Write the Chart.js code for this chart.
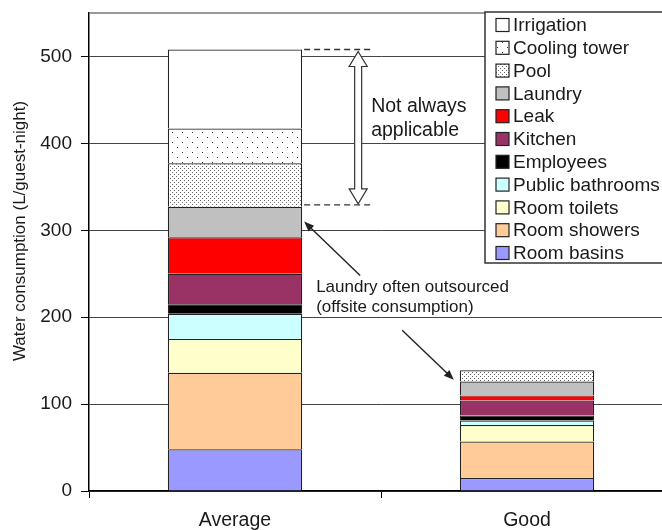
<!DOCTYPE html>
<html>
<head>
<meta charset="utf-8">
<script src="https://cdn.jsdelivr.net/npm/chart.js@4.4.1/dist/chart.umd.min.js"></script>
<style>
  html, body { margin: 0; padding: 0; background: #fff; overflow: hidden; }
  #wrap { width: 680px; height: 530px; }
</style>
</head>
<body>
<div id="wrap"><canvas id="waterChart"></canvas></div>
<script>
// categories + stacked series (L/guest-night)
const categories = ['Average', 'Good'];
const roomBasins = [48, 15];
const roomShowers = [88, 42];
const roomToilets = [39, 19];
const publicBathrooms = [29, 5];
const employees = [11, 6];
const kitchen = [35, 17];
const leak = [42, 6];
const laundry = [35, 16];
const pool = [50, 13];
const coolingTower = [40, 0];
const irrigation = [91, 0];
const yTicks = [0, 100, 200, 300, 400, 500];

const FONT = 'Liberation Sans, Arial, sans-serif';

// dotted fills for pool / cooling tower
function dots(size, pts, col) {
  const c = document.createElement('canvas');
  c.width = size; c.height = size;
  const g = c.getContext('2d');
  g.fillStyle = '#fff';
  g.fillRect(0, 0, size, size);
  g.fillStyle = col;
  pts.forEach(p => g.fillRect(p[0], p[1], 1, 1));
  return g.createPattern(c, 'repeat');
}
const ctx = document.getElementById('waterChart').getContext('2d');
const coolingFill = dots(10, [[2, 2], [7, 7]], '#333');
const poolFill = dots(4, [[0, 0], [2, 2]], '#666');

const series = [
  { label: 'Room basins', data: roomBasins, backgroundColor: '#9999ff' },
  { label: 'Room showers', data: roomShowers, backgroundColor: '#ffcc99' },
  { label: 'Room toilets', data: roomToilets, backgroundColor: '#ffffcc' },
  { label: 'Public bathrooms', data: publicBathrooms, backgroundColor: '#ccffff' },
  { label: 'Employees', data: employees, backgroundColor: '#000000' },
  { label: 'Kitchen', data: kitchen, backgroundColor: '#993366' },
  { label: 'Leak', data: leak, backgroundColor: '#ff0000' },
  { label: 'Laundry', data: laundry, backgroundColor: '#c0c0c0' },
  { label: 'Pool', data: pool, backgroundColor: poolFill },
  { label: 'Cooling tower', data: coolingTower, backgroundColor: coolingFill },
  { label: 'Irrigation', data: irrigation, backgroundColor: '#ffffff' }
];

function arrow(g, x1, y1, x2, y2) {
  const a = Math.atan2(y2 - y1, x2 - x1);
  g.beginPath();
  g.moveTo(x1, y1);
  g.lineTo(x2 - 6 * Math.cos(a), y2 - 6 * Math.sin(a));
  g.stroke();
  g.beginPath();
  g.moveTo(x2, y2);
  g.lineTo(x2 - 10 * Math.cos(a) + 4 * Math.sin(a), y2 - 10 * Math.sin(a) - 4 * Math.cos(a));
  g.lineTo(x2 - 10 * Math.cos(a) - 4 * Math.sin(a), y2 - 10 * Math.sin(a) + 4 * Math.cos(a));
  g.closePath();
  g.fill();
}

const extras = {
  id: 'extras',
  afterDraw(chart) {
    const g = chart.ctx;
    const ca = chart.chartArea;
    const y = chart.scales.y;
    g.save();

    // top border of the plot area
    g.strokeStyle = '#777';
    g.lineWidth = 1.5;
    g.beginPath();
    g.moveTo(ca.left, ca.top);
    g.lineTo(ca.right, ca.top);
    g.stroke();

    // y title
    g.save();
    g.translate(20, 231);
    g.rotate(-Math.PI / 2);
    g.fillStyle = '#1a1a1a';
    g.font = '17px ' + FONT;
    g.textAlign = 'center';
    g.textBaseline = 'middle';
    g.fillText('Water consumption (L/guest-night)', 0, 0);
    g.restore();

    // "not always applicable" bracket
    const avg = chart.getDatasetMeta(0).data[0];
    const good = chart.getDatasetMeta(0).data[1];
    const avgRight = avg.x + avg.width / 2;
    const goodLeft = good.x - good.width / 2;
    let lowSum = 0, topSum = 0;
    series.forEach((s, i) => { topSum += s.data[0]; if (i <= 7) lowSum += s.data[0]; });
    const yTop = y.getPixelForValue(topSum), yLow = y.getPixelForValue(lowSum) - 2;
    g.strokeStyle = '#333';
    g.lineWidth = 1.3;
    g.setLineDash([6, 4]);
    g.beginPath();
    g.moveTo(avgRight + 2, yTop); g.lineTo(avgRight + 68, yTop);
    g.moveTo(avgRight + 2, yLow); g.lineTo(avgRight + 68, yLow);
    g.stroke();
    g.setLineDash([]);

    const cx = avgRight + 56, hw = 9, sw = 3.5, hl = 15;
    const t = yTop + 2, b = yLow - 1;
    g.beginPath();
    g.moveTo(cx, t);
    g.lineTo(cx + hw, t + hl); g.lineTo(cx + sw, t + hl);
    g.lineTo(cx + sw, b - hl); g.lineTo(cx + hw, b - hl);
    g.lineTo(cx, b);
    g.lineTo(cx - hw, b - hl); g.lineTo(cx - sw, b - hl);
    g.lineTo(cx - sw, t + hl); g.lineTo(cx - hw, t + hl);
    g.closePath();
    g.fillStyle = '#fff';
    g.fill();
    g.strokeStyle = '#333';
    g.lineWidth = 1.2;
    g.stroke();

    g.fillStyle = '#1a1a1a';
    g.font = '19.5px ' + FONT;
    g.textAlign = 'left';
    g.textBaseline = 'middle';
    const mid = (yTop + yLow) / 2;
    g.fillText('Not always', avgRight + 69, mid - 21);
    g.fillText('applicable', avgRight + 69, mid + 3);

    // laundry note + arrows
    g.font = '17px ' + FONT;
    g.fillText('Laundry often outsourced', avgRight + 14, y.getPixelForValue(234));
    g.fillText('(offsite consumption)', avgRight + 14, y.getPixelForValue(211));
    g.strokeStyle = '#222';
    g.fillStyle = '#222';
    g.lineWidth = 1.4;
    arrow(g, avgRight + 58, y.getPixelForValue(248), avgRight + 2, y.getPixelForValue(310));
    arrow(g, avgRight + 100, y.getPixelForValue(185), goodLeft - 6, y.getPixelForValue(128));

    // legend box
    const lx = 485, ly = 12, rowH = 22.8;
    g.fillStyle = '#fff';
    g.fillRect(lx, ly, 300, 251);
    g.strokeStyle = '#333';
    g.lineWidth = 1.5;
    g.strokeRect(lx, ly, 300, 251);
    g.font = '19px ' + FONT;
    g.textBaseline = 'middle';
    series.slice().reverse().forEach((s, i) => {
      const cy = ly + 13 + i * rowH;
      g.fillStyle = s.backgroundColor;
      g.fillRect(496, cy - 6.5, 13, 13);
      g.strokeStyle = '#222';
      g.lineWidth = 1.2;
      g.strokeRect(496, cy - 6.5, 13, 13);
      g.fillStyle = '#1a1a1a';
      g.fillText(s.label, 513, cy + 1);
    });
    g.restore();
  }
};

new Chart(ctx, {
  type: 'bar',
  data: {
    labels: categories,
    datasets: series.map(s => ({
      label: s.label,
      data: s.data,
      backgroundColor: s.backgroundColor,
      borderColor: '#222',
      borderWidth: 1.2,
      categoryPercentage: 1,
      barPercentage: 0.46
    }))
  },
  options: {
    responsive: true,
    maintainAspectRatio: false,
    animation: false,
    layout: { autoPadding: false, padding: { top: 13, right: 7, left: 0, bottom: 0 } },
    plugins: { legend: { display: false }, tooltip: { enabled: false } },
    scales: {
      x: {
        stacked: true,
        afterFit: s => { s.height = 39; s.paddingLeft = 0; s.paddingRight = 0; },
        grid: { drawOnChartArea: false, drawTicks: true, tickLength: 7, offset: true, color: '#000' },
        border: { display: true, color: '#000', width: 1.5 },
        ticks: { color: '#1a1a1a', font: { family: FONT, size: 19.5 }, padding: 11 }
      },
      y: {
        stacked: true,
        min: 0,
        max: 550,
        afterFit: s => { s.width = 89; s.paddingTop = 0; s.paddingBottom = 0; },
        afterBuildTicks: s => { s.ticks = yTicks.map(v => ({ value: v })); },
        grid: { color: '#444', lineWidth: 1, tickLength: 8, tickColor: '#000' },
        border: { display: true, color: '#000', width: 1.5 },
        ticks: { color: '#1a1a1a', font: { family: FONT, size: 19 }, padding: 9 }
      }
    }
  },
  plugins: [extras]
});
</script>
</body>
</html>
